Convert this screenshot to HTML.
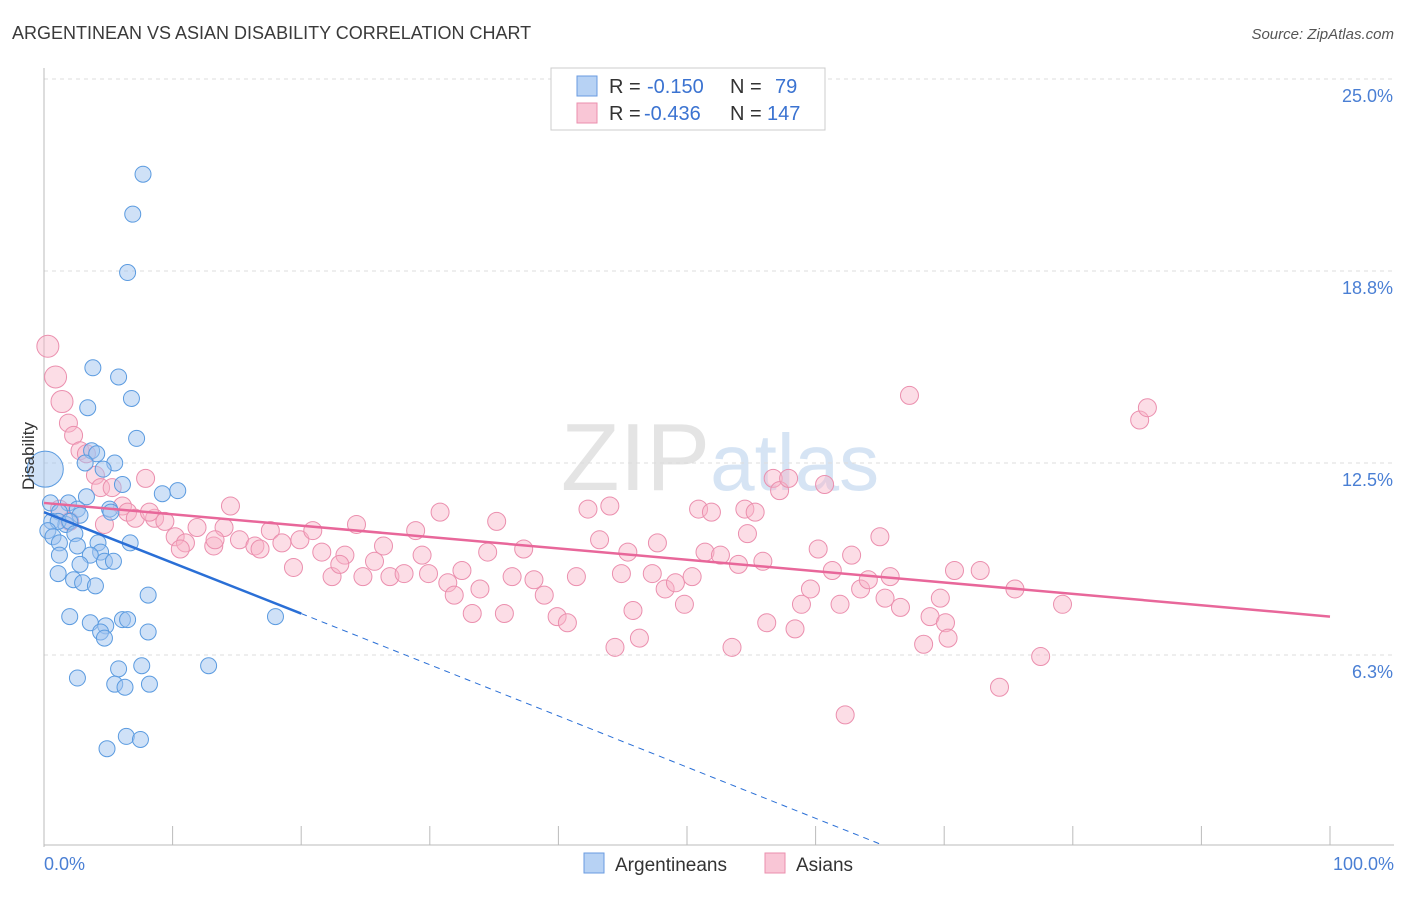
<!DOCTYPE html>
<html><head><meta charset="utf-8"><style>
body{margin:0;background:#fff;font-family:"Liberation Sans",sans-serif}
svg text{font-family:"Liberation Sans",sans-serif}
</style></head><body>
<svg id="chart" width="1406" height="892" xmlns="http://www.w3.org/2000/svg">
<text x="12" y="39" font-size="18" fill="#3a3a3a">ARGENTINEAN VS ASIAN DISABILITY CORRELATION CHART</text>
<text x="1394" y="39" font-size="15" fill="#555" text-anchor="end" font-style="italic">Source: ZipAtlas.com</text>
<text x="720" y="490" font-size="96" fill="#e4e4e4" text-anchor="middle" font-family="Liberation Serif">ZIP<tspan fill="#d6e4f4" font-family="Liberation Sans" font-size="80">atlas</tspan></text>
<g id="grid"></g>
<g id="axes"></g>
<g id="pts"></g>
<g id="trend"></g>
<text transform="translate(34,456) rotate(-90)" font-size="17" fill="#333" text-anchor="middle">Disability</text>
<text x="44" y="870" font-size="18" fill="#4a7fd4">0.0%</text>
<text x="1394" y="870" font-size="18" fill="#4a7fd4" text-anchor="end">100.0%</text>
<g>
<rect x="551" y="68" width="274" height="62" fill="#fff" stroke="#ccc"/>
<rect x="577" y="76" width="20" height="20" fill="#b7d2f4" stroke="#6a9be0"/>
<rect x="577" y="103" width="20" height="20" fill="#f9c6d6" stroke="#eb8fae"/>
<text x="609" y="93" font-size="20" fill="#333">R = </text>
<text x="647" y="93" font-size="20" fill="#3b73d1">-0.150</text>
<text x="730" y="93" font-size="20" fill="#333">N = </text>
<text x="775" y="93" font-size="20" fill="#3b73d1">79</text>
<text x="609" y="120" font-size="20" fill="#333">R = </text>
<text x="644" y="120" font-size="20" fill="#3b73d1">-0.436</text>
<text x="730" y="120" font-size="20" fill="#333">N = </text>
<text x="767" y="120" font-size="20" fill="#3b73d1">147</text>
</g>
<g>
<rect x="584" y="853" width="20" height="20" fill="#b7d2f4" stroke="#6a9be0"/>
<text x="615" y="871" font-size="19" fill="#333">Argentineans</text>
<rect x="765" y="853" width="20" height="20" fill="#f9c6d6" stroke="#eb8fae"/>
<text x="796" y="871" font-size="19" fill="#333">Asians</text>
</g>
</svg>
<script>
const yTicks=[6.25,12.5,18.75,25];
const yTickLabels=["6.3%","12.5%","18.8%","25.0%"];
const blueX=[7.7,6.9,6.5,3.8,5.8,6.8,3.4,7.2,3.7,4.1,5.5,3.2,4.6,6.1,10.4,9.2,3.3,1.9,0.5,2.6,5.1,1.2,2.8,5.2,0.6,1.7,1.1,2.0,0.3,2.4,0.7,1.2,2.6,6.7,4.2,4.4,3.6,1.2,4.7,5.4,2.8,1.1,2.3,3.0,4.0,8.1,2.0,3.6,6.1,6.5,4.8,4.4,4.7,8.1,18.0,12.8,5.8,7.6,2.6,5.5,6.3,8.2,6.4,7.5,4.9];
const blueY=[21.9,20.6,18.7,15.6,15.3,14.6,14.3,13.3,12.9,12.8,12.5,12.5,12.3,11.8,11.6,11.5,11.4,11.2,11.2,11.0,11.0,10.9,10.8,10.9,10.6,10.5,10.6,10.6,10.3,10.2,10.1,9.9,9.8,9.9,9.9,9.6,9.5,9.5,9.3,9.3,9.2,8.9,8.7,8.6,8.5,8.2,7.5,7.3,7.4,7.4,7.2,7.0,6.8,7.0,7.5,5.9,5.8,5.9,5.5,5.3,5.2,5.3,3.6,3.5,3.2];
const pinkX=[0.3,0.9,1.4,1.9,2.3,2.8,3.3,4.0,4.4,5.3,7.9,6.1,6.5,7.1,8.6,9.4,10.2,11.0,11.9,13.2,14.0,14.5,15.2,16.4,17.6,18.5,19.4,19.9,20.9,21.6,22.4,23.4,24.3,24.8,25.7,26.4,26.9,28.0,28.9,29.4,29.9,30.8,31.4,31.9,32.5,33.3,33.9,34.5,35.2,35.8,36.4,37.3,38.1,38.9,39.9,40.7,41.4,42.3,43.2,44.0,44.4,44.9,45.4,45.8,46.3,47.3,47.7,48.3,49.1,49.8,50.4,50.9,51.4,51.9,52.6,53.5,54.0,54.5,54.7,55.3,55.9,56.2,56.7,57.2,57.9,58.4,58.9,59.6,60.2,60.7,61.3,61.9,62.3,62.8,63.5,64.1,65.0,65.4,65.8,66.6,67.3,68.4,68.9,69.7,70.1,70.3,70.8,72.8,74.3,75.5,77.5,79.2,85.2,85.8,1.2,2.0,4.7,8.2,10.6,13.3,16.8,23.0];
const pinkY=[16.3,15.3,14.5,13.8,13.4,12.9,12.8,12.1,11.7,11.7,12.0,11.1,10.9,10.7,10.7,10.6,10.1,9.9,10.4,9.8,10.4,11.1,10.0,9.8,10.3,9.9,9.1,10.0,10.3,9.6,8.8,9.5,10.5,8.8,9.3,9.8,8.8,8.9,10.3,9.5,8.9,10.9,8.6,8.2,9.0,7.6,8.4,9.6,10.6,7.6,8.8,9.7,8.7,8.2,7.5,7.3,8.8,11.0,10.0,11.1,6.5,8.9,9.6,7.7,6.8,8.9,9.9,8.4,8.6,7.9,8.8,11.0,9.6,10.9,9.5,6.5,9.2,11.0,10.2,10.9,9.3,7.3,12.0,11.6,12.0,7.1,7.9,8.4,9.7,11.8,9.0,7.9,4.3,9.5,8.4,8.7,10.1,8.1,8.8,7.8,14.7,6.6,7.5,8.1,7.3,6.8,9.0,9.0,5.2,8.4,6.2,7.9,13.9,14.3,11.0,10.6,10.5,10.9,9.7,10.0,9.7,9.2];
const blueTrend=[[0,10.9],[20,7.6]];
const blueDash=[[20,7.6],[65,0.1]];
const pinkTrend=[[0,11.2],[100,7.5]];

const X0=44,X1=1330,Y0=847,PY=192/6.25;
const sx=v=>X0+(X1-X0)*v/100;
const sy=v=>Y0-v*PY;
const NS="http://www.w3.org/2000/svg";
function mk(tag,parent,attrs){const e=document.createElementNS(NS,tag);for(const k in attrs)e.setAttribute(k,attrs[k]);parent.appendChild(e);return e;}
const grid=document.getElementById('grid'),axes=document.getElementById('axes'),pts=document.getElementById('pts'),trend=document.getElementById('trend');
yTicks.forEach((t,i)=>{
  const l=mk('line',grid,{x1:X0,x2:1394,y1:sy(t),y2:sy(t),stroke:'#ddd','stroke-dasharray':'4,4'});
  
  
  const tx=mk('text',grid,{x:1393,y:sy(t)+23,'font-size':18,fill:'#4a7fd4','text-anchor':'end'});
  tx.textContent=yTickLabels[i];
  
  
});
const ya=mk('line',axes,{x1:X0,x2:X0,y1:68,y2:Y0,stroke:'#bbb'});


const xa=mk('line',axes,{x1:X0,x2:1394,y1:845,y2:845,stroke:'#bbb'});


for(let i=0;i<=10;i++){
  const t=mk('line',axes,{x1:sx(i*10),x2:sx(i*10),y1:826,y2:845,stroke:'#bbb'});
  
  
}
function dots(xs,ys,fill,stroke,name,r0){
  xs.forEach((x,i)=>{
    let r=r0;
    if(name==='asian-point'&&i<3)r=11;
    const c=mk('circle',pts,{cx:sx(x),cy:sy(ys[i]),r:r,fill:fill,stroke:stroke,'stroke-width':1});
    
    
  });
}
dots(pinkX,pinkY,'rgba(248,180,200,0.45)','#eb8fae','asian-point',9);
dots(blueX,blueY,'rgba(160,196,240,0.5)','#5b9be0','argentinean-point',8);
const big=mk('circle',pts,{cx:sx(0.1),cy:sy(12.3),r:18,fill:'rgba(160,196,240,0.5)',stroke:'#5b9be0'});


const tb=mk('line',trend,{x1:sx(blueTrend[0][0]),y1:sy(blueTrend[0][1]),x2:sx(blueTrend[1][0]),y2:sy(blueTrend[1][1]),stroke:'#2a6fd6','stroke-width':2.5});


const td=mk('line',trend,{x1:sx(blueDash[0][0]),y1:sy(blueDash[0][1]),x2:sx(blueDash[1][0]),y2:sy(blueDash[1][1]),stroke:'#2a6fd6','stroke-width':1,'stroke-dasharray':'6,5'});


const tp=mk('line',trend,{x1:sx(pinkTrend[0][0]),y1:sy(pinkTrend[0][1]),x2:sx(pinkTrend[1][0]),y2:sy(pinkTrend[1][1]),stroke:'#e8679a','stroke-width':2.5});


</script>
</body></html>
